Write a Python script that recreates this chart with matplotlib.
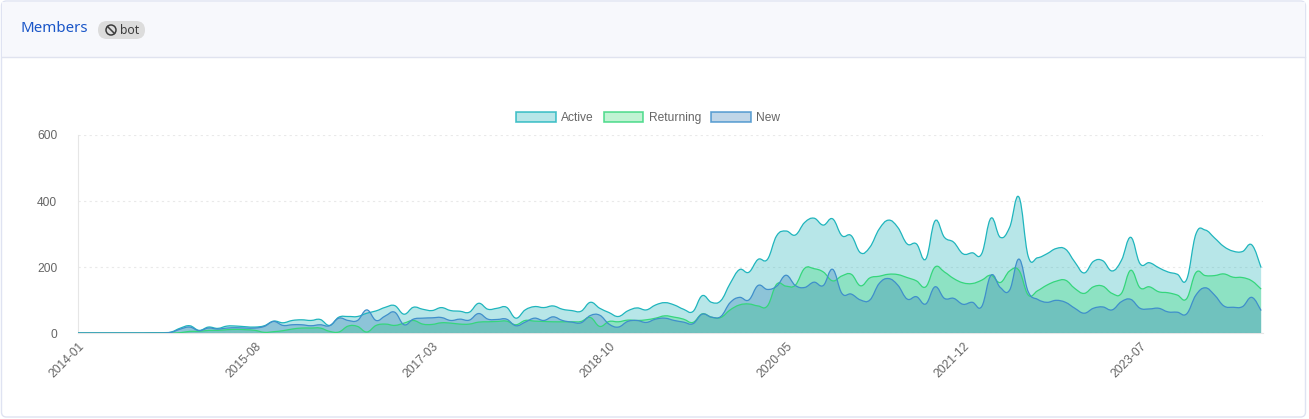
import numpy as np
import matplotlib
matplotlib.use("Agg")
import matplotlib.pyplot as plt
from matplotlib.patches import FancyBboxPatch, Rectangle, Circle, Patch, PathPatch
from matplotlib.path import Path
from matplotlib.lines import Line2D

W, H = 1309, 419

months = [f"{2014 + i // 12}-{i % 12 + 1:02d}" for i in range(128)]

active = [0, 0, 0, 0, 0, 0, 0, 0, 1, 1, 3, 15, 22, 8, 18, 14, 21, 21, 19, 18, 22, 36, 31, 38,
          40, 38, 41, 23, 48, 50, 50, 60, 67, 78, 83, 57, 78, 72, 68, 77, 68, 66, 63, 90, 72, 75, 78, 45,
          70, 80, 77, 82, 72, 68, 66, 93, 75, 62, 50, 67, 76, 70, 85, 92, 85, 72, 65, 113, 93, 98, 150, 192,
          184, 223, 223, 295, 309, 297, 335, 348, 327, 346, 295, 295, 243, 260, 315, 342, 320, 270, 270, 224, 340, 290, 275, 240,
          243, 240, 348, 290, 320, 412, 232, 228, 240, 256, 254, 215, 182, 217, 219, 188, 220, 290, 210, 213, 198, 185, 178, 162,
          300, 312, 288, 262, 248, 247, 267, 198]
returning = [0, 0, 0, 0, 0, 0, 0, 0, 0, 0, 0, 1, 5, 5, 8, 8, 10, 11, 10, 8, 2, 4, 7, 12,
             15, 15, 15, 5, 3, 21, 20, 3, 23, 27, 23, 30, 38, 27, 26, 31, 30, 27, 27, 33, 34, 35, 36, 25,
             38, 36, 35, 34, 34, 34, 35, 47, 20, 35, 34, 39, 38, 40, 45, 52, 48, 42, 32, 58, 48, 47, 70, 85,
             88, 82, 82, 148, 142, 145, 196, 195, 185, 158, 173, 178, 143, 167, 172, 178, 177, 168, 158, 140, 200, 185, 165, 152,
             150, 160, 175, 153, 188, 190, 115, 128, 145, 157, 160, 135, 120, 140, 142, 120, 120, 190, 137, 140, 125, 122, 115, 104,
             183, 174, 174, 179, 169, 168, 158, 133]
new = [0, 0, 0, 0, 0, 0, 0, 0, 0, 0, 2, 12, 18, 7, 15, 12, 15, 16, 15, 15, 20, 35, 23, 25,
       25, 22, 25, 22, 45, 38, 38, 70, 38, 52, 63, 25, 42, 45, 46, 47, 38, 42, 39, 59, 42, 41, 42, 22,
       33, 45, 38, 49, 38, 33, 31, 53, 54, 27, 18, 35, 38, 32, 42, 45, 38, 33, 28, 57, 48, 50, 92, 108,
       100, 144, 132, 142, 175, 144, 138, 154, 144, 193, 120, 118, 100, 100, 150, 165, 145, 103, 110, 88, 140, 105, 105, 87,
       93, 80, 175, 138, 130, 224, 125, 102, 93, 99, 93, 75, 60, 75, 79, 70, 95, 102, 75, 73, 75, 64, 63, 58,
       115, 137, 115, 82, 78, 80, 108, 68]

series_names = ["Active", "Returning", "New"]
series_values = [active, returning, new]
line_colors = ["#1fb5bd", "#35d67c", "#3f8fcb"]
fill_colors = ["#13aeb5", "#2fd96f", "#2f78b5"]
yticks = [0, 200, 400, 600]


def spline_path(xs, ys, tension=0.4):
    # same control points as chart.js line tension
    xs = np.asarray(xs, float)
    ys = np.asarray(ys, float)
    verts = [(xs[0], ys[0])]
    codes = [Path.MOVETO]
    n = len(xs)
    for i in range(n - 1):
        i0, i3 = max(i - 1, 0), min(i + 2, n - 1)
        c1 = (xs[i] + (xs[i + 1] - xs[i0]) * tension / 2, ys[i] + (ys[i + 1] - ys[i0]) * tension / 2)
        c2 = (xs[i + 1] - (xs[i3] - xs[i]) * tension / 2, ys[i + 1] - (ys[i3] - ys[i]) * tension / 2)
        c1 = (c1[0], max(c1[1], 0))
        c2 = (c2[0], max(c2[1], 0))
        verts += [c1, c2, (xs[i + 1], ys[i + 1])]
        codes += [Path.CURVE4] * 3
    return verts, codes


fig = plt.figure(figsize=(W / 100, H / 100), dpi=100, facecolor="white")
plt.rcParams["font.family"] = ["Liberation Sans", "DejaVu Sans"]

# card + header, in pixel coords
bg = fig.add_axes([0, 0, 1, 1], zorder=0)
bg.set_xlim(0, W)
bg.set_ylim(H, 0)
bg.axis("off")
bg.add_patch(FancyBboxPatch((1.5, 1), 1304, 416, boxstyle="round,pad=0,rounding_size=5",
                            fc="white", ec="#dfe3f2", lw=1))
bg.add_patch(Rectangle((2, 2), 1303, 55, fc="#f7f8fc", ec="none"))
bg.plot([2, 1305], [57.5, 57.5], color="#e0e3ef", lw=1)
bg.text(21, 28, "Members", family="Noto Sans", weight="bold", fontsize=10.8, color="#1a56c8",
        ha="left", va="center")
bg.add_patch(FancyBboxPatch((98, 21), 47, 18, boxstyle="round,pad=0,rounding_size=9",
                            fc="#dcdcdc", ec="none"))
bg.add_patch(Circle((111, 30), 5, fc="none", ec="#3c3c3c", lw=1.1))
bg.plot([107.6, 114.4], [26.6, 33.4], color="#3c3c3c", lw=1.1)
bg.text(120, 30, "bot", family="Noto Sans", fontsize=8.8, color="#3c3c3c", ha="left", va="center")

ax = fig.add_axes([78 / W, 1 - 333 / H, (1263 - 78) / W, 198 / H], zorder=1)
ax.patch.set_alpha(0)
x = np.arange(len(months))
for vals, name, lc, fc in zip(series_values, series_names, line_colors, fill_colors):
    verts, codes = spline_path(x, vals)
    area = verts + [(x[-1], 0), (x[0], 0), (x[0], 0)]
    area_codes = codes + [Path.LINETO, Path.LINETO, Path.CLOSEPOLY]
    ax.add_patch(PathPatch(Path(area, area_codes), fc=fc, ec="none", alpha=0.3, zorder=3))
    ax.add_patch(PathPatch(Path(verts, codes), fc="none", ec=lc, lw=0.9, zorder=4))

ax.set_xlim(0, 127.2)
ax.set_ylim(0, 600)
ax.set_yticks(yticks)
ax.set_xticks(x[::19])
ax.set_xticklabels(months[::19], rotation=45, ha="right", rotation_mode="anchor")
ax.tick_params(axis="both", length=0, labelsize=8.64, labelcolor="#666666")
ax.tick_params(axis="y", pad=15)
ax.tick_params(axis="x", pad=5)
ax.grid(axis="y", color="#e9e9e9", lw=0.8, ls=(0, (2, 3)))
ax.set_axisbelow(True)
for s in ["top", "right"]:
    ax.spines[s].set_visible(False)
ax.spines["left"].set_color("#e6e6e6")
ax.spines["bottom"].set_color("#e6e6e6")

handles = [Patch(facecolor=matplotlib.colors.to_rgba(fc, 0.3), edgecolor=matplotlib.colors.to_rgba(lc, 0.8), lw=1.2)
           for fc, lc in zip(fill_colors, line_colors)]
ax.legend(handles, series_names, ncol=3, loc="center", bbox_to_anchor=((648 - 78) / 1185, 1 + 17 / 198),
          frameon=False, fontsize=8.64, handlelength=3.33, handleheight=1.0, handletextpad=0.45,
          columnspacing=0.8, labelcolor="#666666", borderpad=0)

fig.savefig("out.png", dpi=100)
